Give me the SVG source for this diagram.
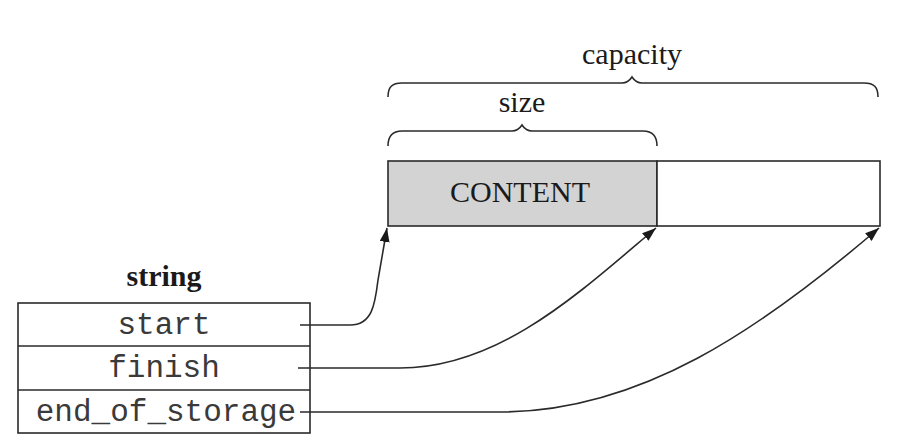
<svg xmlns="http://www.w3.org/2000/svg" width="908" height="448" viewBox="0 0 908 448">
<defs>
<style>
.serif{font-family:"Liberation Serif","Times New Roman",serif;fill:#1a1a1a;font-size:30px;text-anchor:middle}
.mono{font-family:"Liberation Mono","Courier New",monospace;font-size:31px;fill:#3a3a3a;text-anchor:middle}
.ln{fill:none;stroke:#2a2a2a;stroke-width:1.6}
.box{fill:#fff;stroke:#2a2a2a;stroke-width:1.6}
</style>
<marker id="arr" viewBox="0 0 14 10" refX="14" refY="5" markerWidth="14" markerHeight="10" markerUnits="userSpaceOnUse" orient="auto">
<path d="M0,0 L14,5 L0,10 Z" fill="#1a1a1a"/>
</marker>
</defs>
<rect width="908" height="448" fill="#fff"/>
<g id="capacity">
<text class="serif" x="632" y="64">capacity</text>
<path class="ln" d="M388,97 C388,87 392,83 402,83 L622,83 Q628,83 632,77 Q636,83 642,83 L864,83 C874,83 878,87 878,97"/>
</g>
<g id="size">
<text class="serif" x="522" y="112">size</text>
<path class="ln" d="M388,146 C388,136 392,131 402,131 L512,131 Q518,131 522,125 Q526,131 532,131 L643,131 C653,131 657,136 657,146"/>
</g>
<g id="buffer">
<rect x="388" y="161" width="269" height="65" fill="#d3d3d3" stroke="#2a2a2a" stroke-width="1.6"/>
<rect x="657" y="161" width="223" height="65" class="box"/>
<text class="serif" x="520" y="202">CONTENT</text>
</g>
<g id="string">
<text class="serif" x="164" y="286" font-weight="bold">string</text>
<rect x="18" y="303" width="292" height="130" class="box"/>
<line class="ln" x1="18" y1="346" x2="310" y2="346"/>
<line class="ln" x1="18" y1="390" x2="310" y2="390"/>
<text class="mono" x="164" y="334">start</text>
<text class="mono" x="164" y="377">finish</text>
<text class="mono" x="166" y="421">end_of_storage</text>
</g>
<g id="connectors">
<path class="ln" marker-end="url(#arr)" d="M300,325 L350,325 C372,325 375,305 378,280 L387,228"/>
<path class="ln" marker-end="url(#arr)" d="M298,368 L400,368 C500,368 580,292 656,228"/>
<path class="ln" marker-end="url(#arr)" d="M300,412 L500,412 C640,412 760,330 879,228"/>
</g>
</svg>
